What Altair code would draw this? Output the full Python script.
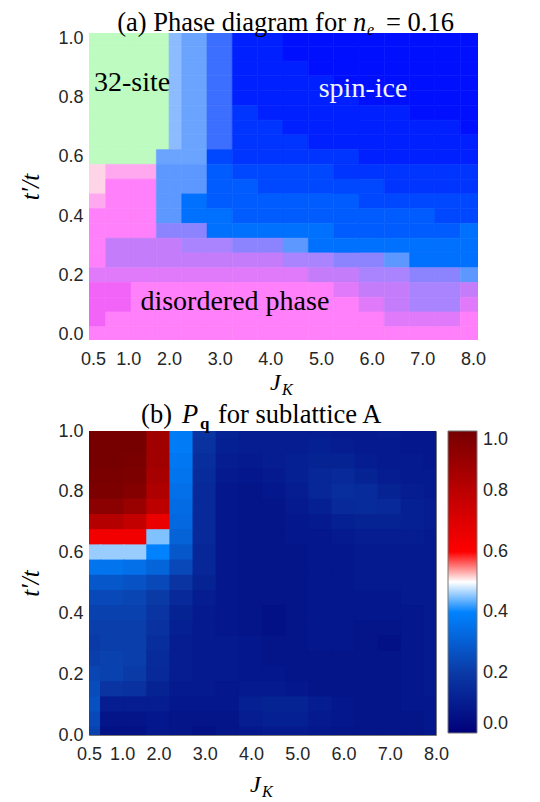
import altair as alt
import pandas as pd

# ---------------- data ----------------
# panel (a): cell edges along J_K (one extra column splits the 1.75-2.25 band)
TOP_X_EDGES = [0.25, 0.75, 1.25, 1.75, 2.0, 2.25, 2.75, 3.25, 3.75, 4.25,
               4.75, 5.25, 5.75, 6.25, 6.75, 7.25, 7.75, 8.25]
# panel (b): J_K grid centres
JK = [0.5, 1.0, 1.5, 2.0, 2.5, 3.0, 3.5, 4.0, 4.5, 5.0, 5.5, 6.0, 6.5, 7.0, 7.5, 8.0]
TP = [1.0, 0.95, 0.9, 0.85, 0.8, 0.75, 0.7, 0.65, 0.6, 0.55, 0.5,
      0.45, 0.4, 0.35, 0.3, 0.25, 0.2, 0.15, 0.1, 0.05, 0.0]

# phase-diagram colours
PHASE_PALETTE = {
    "G": "#bdfbc1", "L": "#8cbcff", "l": "#6aa4ff",
    "M": "#3c6eff", "D": "#0010ff", "B": "#0020ff", "b": "#0034ff",
    "E": "#0048ff", "A": "#005cff", "a": "#0070ff", "Q": "#5c98ff",
    "U": "#8c84ff", "V": "#c47cfa", "v": "#aa84ff", "P": "#ff80fa",
    "p": "#f264f8", "K": "#e07afa", "W": "#ffd4e6", "w": "#ffa8f0",
}
PHASE_ROWS = [
    "GGGGLlMBBDDDDDDDD",
    "GGGGLlMBBDDDDDDDD",
    "GGGGLlMBBBDDDDDDD",
    "GGGGLlMBBBBDDDDDD",
    "GGGGLlMBBBBBDDDDD",
    "GGGGLlMbBBBBBBDDD",
    "GGGGLlMbbBBBBBBBD",
    "GGGGLlMbbbBBBBBBB",
    "GGGlllEbbbbbBBBBB",
    "WwwQQQAEEEEbbbbbb",
    "WPPQQQAAEEEEEbbbb",
    "wPPQQaAAAAAAEEEEE",
    "PPPQQaaAAAAAAAAEE",
    "PPPUUUaaaaaAAAAAa",
    "PVVVVvvUUQaaaaaaa",
    "PVVVVVVVVvvUUQaaa",
    "KKKKKKKKKKVVvvUUQ",
    "ppPPPPPPPPPKVVvvV",
    "ppPPPPPPPPPPKVvvK",
    "pPPPPPPPPPPPPKKKP",
    "PPPPPPPPPPPPPPPPP",
]

# P_q for sublattice A (x100)
PQ_ROWS = [
    [100, 100, 100, 88, 38, 18, 12, 10, 10, 10, 10, 9, 9, 10, 8, 8],
    [100, 100, 100, 88, 38, 17, 11, 10, 10, 10, 11, 10, 9, 9, 8, 8],
    [100, 100, 99, 88, 37, 16, 10, 9, 10, 11, 12, 12, 10, 9, 9, 8],
    [99, 99, 98, 86, 36, 15, 9, 8, 9, 11, 13, 14, 12, 10, 9, 9],
    [98, 98, 96, 84, 35, 14, 8, 7, 8, 10, 13, 16, 15, 12, 10, 9],
    [94, 94, 90, 80, 34, 14, 8, 7, 7, 9, 11, 14, 15, 14, 11, 10],
    [82, 82, 78, 66, 33, 14, 8, 7, 7, 8, 9, 11, 12, 12, 11, 10],
    [64, 64, 64, 45, 31, 14, 8, 7, 7, 8, 8, 9, 10, 10, 10, 9],
    [46, 46, 46, 40, 28, 13, 8, 7, 7, 7, 8, 8, 9, 9, 9, 9],
    [36, 36, 35, 32, 24, 13, 8, 7, 7, 7, 8, 8, 9, 9, 9, 9],
    [28, 28, 27, 24, 18, 12, 8, 7, 7, 7, 8, 8, 9, 9, 9, 9],
    [24, 24, 23, 20, 14, 10, 8, 7, 7, 7, 8, 8, 8, 8, 9, 9],
    [22, 22, 22, 18, 12, 9, 8, 7, 6, 7, 8, 8, 8, 8, 8, 9],
    [21, 21, 21, 17, 11, 9, 8, 7, 6, 7, 8, 8, 7, 7, 8, 9],
    [20, 21, 21, 16, 10, 9, 9, 8, 7, 7, 8, 8, 7, 6, 8, 9],
    [21, 22, 21, 15, 10, 9, 9, 8, 7, 7, 7, 7, 7, 7, 8, 9],
    [23, 22, 20, 14, 10, 9, 9, 8, 8, 7, 7, 7, 7, 7, 8, 9],
    [25, 18, 17, 12, 9, 9, 8, 9, 9, 8, 7, 7, 7, 7, 8, 9],
    [26, 10, 10, 10, 8, 8, 8, 11, 12, 12, 10, 8, 7, 7, 8, 8],
    [24, 7, 7, 8, 7, 7, 7, 10, 11, 11, 9, 8, 7, 7, 7, 8],
    [22, 6, 6, 8, 7, 6, 7, 8, 9, 9, 8, 7, 7, 7, 7, 8],
]

X_TICKS = [0.5, 1.0, 2.0, 3.0, 4.0, 5.0, 6.0, 7.0, 8.0]
Y_TICKS = [0.0, 0.2, 0.4, 0.6, 0.8, 1.0]

PHASE_LABELS = ["32-site", "spin-ice", "disordered phase"]
PHASE_LABEL_JK = [1.27, 5.83, 3.3]
PHASE_LABEL_TP = [0.85, 0.83, 0.11]
PHASE_LABEL_COLOR = ["#000000", "#f4f4ff", "#000000"]

CMAP_STOPS = [0.0, 0.2, 0.4, 0.5, 0.6, 0.8, 1.0]
CMAP_COLORS = ["#00007a", "#0a3aa6", "#0082ff", "#ffffff", "#ff0000", "#bc0000", "#760000"]

# ---------------- tables ----------------
HX, HY = 0.25, 0.025
OVX, OVY = 0.012, 0.002   # tiny overlap so that neighbouring cells leave no seams
top_rows = []
for i, row in enumerate(PHASE_ROWS):
    assert len(row) == len(TOP_X_EDGES) - 1
    for j, ch in enumerate(row):
        top_rows.append({"x0": TOP_X_EDGES[j], "x1": TOP_X_EDGES[j + 1],
                         "y0": TP[i] - HY, "y1": TP[i] + HY,
                         "c": PHASE_PALETTE[ch]})
df_top = pd.DataFrame(top_rows)

bot_rows = []
for i, row in enumerate(PQ_ROWS):
    assert len(row) == len(JK)
    for j, v in enumerate(row):
        bot_rows.append({"x0": JK[j] - HX - OVX, "x1": JK[j] + HX + OVX,
                         "y0": TP[i] - HY - OVY, "y1": TP[i] + HY + OVY,
                         "v": v / 100.0})
df_bot = pd.DataFrame(bot_rows)

df_lab = pd.DataFrame({"t": PHASE_LABELS, "jk": PHASE_LABEL_JK,
                       "tp": PHASE_LABEL_TP, "col": PHASE_LABEL_COLOR})

SERIF = "Liberation Serif"
SANS = "Liberation Sans"
LBL = dict(labelFont=SANS, labelFontSize=18, labelColor="#262626")
TSIZE = 26.5


def x_axis():
    return alt.Axis(values=X_TICKS, format=".1f", labelOverlap=False,
                    labelFlush=False, ticks=False, domain=False, grid=False,
                    labelPadding=10, title=None,
                    labelOffset={"condition": {"test": "datum.value == 1", "value": 10}, "value": 0},
                    **LBL)


def y_axis():
    return alt.Axis(values=Y_TICKS, format=".1f", labelOverlap=False,
                    labelFlush=False, ticks=False, domain=False, grid=False,
                    labelPadding=6, title="t′/t", titleFont=SERIF,
                    titleFontStyle="italic", titleFontWeight="normal",
                    titleFontSize=25, titleColor="#000000", titlePadding=14,
                    **LBL)


ONE = alt.Data(values=[{"k": 0}])


def txt(s, x, y, size=TSIZE, style="normal", weight="normal", align="left"):
    return alt.Chart(ONE).mark_text(
        text=s, font=SERIF, fontSize=size, fontStyle=style, fontWeight=weight,
        align=align, baseline="alphabetic", color="#000000"
    ).encode(x=alt.value(x), y=alt.value(y))


# ---------------- panel (a) ----------------
W1, H1 = 389, 307
xs1 = alt.Scale(domain=[0.42, 8.1], nice=False, zero=False)
ys1 = alt.Scale(domain=[-0.02, 1.02], nice=False, zero=False)

rect1 = alt.Chart(df_top).mark_rect(clip=True, strokeWidth=0.6).encode(
    x=alt.X("x0:Q", scale=xs1, axis=x_axis()),
    x2="x1:Q",
    y=alt.Y("y0:Q", scale=ys1, axis=y_axis()),
    y2="y1:Q",
    fill=alt.Fill("c:N", scale=None),
    stroke=alt.Stroke("c:N", scale=None),
)
labels1 = alt.Chart(df_lab).mark_text(font=SERIF, fontSize=28).encode(
    x=alt.X("jk:Q", scale=xs1),
    y=alt.Y("tp:Q", scale=ys1),
    text="t:N",
    color=alt.Color("col:N", scale=None),
)
top = alt.layer(
    rect1, labels1,
    txt("(a) Phase diagram for", 257, -2, align="right"),
    txt("n", 264, -2, style="italic"),
    txt("e", 278, 2, size=16, style="italic"),
    txt("= 0.16", 297, -2),
    txt("J", 181, H1 + 50, size=24, style="italic"),
    txt("K", 193, H1 + 55, size=16, style="italic"),
).properties(width=W1, height=H1, view=alt.ViewBackground(stroke=None))

# ---------------- panel (b) ----------------
W2, H2 = 347, 304
xs2 = alt.Scale(domain=[0.5, 8.0], nice=False, zero=False)
ys2 = alt.Scale(domain=[0.0, 1.0], nice=False, zero=False)
cs = alt.Scale(domain=CMAP_STOPS, range=CMAP_COLORS, interpolate="rgb")
leg = alt.Legend(
    type="gradient", direction="vertical", orient="right",
    title=None, values=Y_TICKS, format=".1f", gradientLength=302,
    gradientThickness=29, gradientStrokeColor="#777777",
    gradientStrokeWidth=1, labelOverlap=False, labelBaseline="middle",
    labelOffset=6, offset=12, **LBL)

rect2 = alt.Chart(df_bot).mark_rect(clip=True).encode(
    x=alt.X("x0:Q", scale=xs2, axis=x_axis()),
    x2="x1:Q",
    y=alt.Y("y0:Q", scale=ys2, axis=y_axis()),
    y2="y1:Q",
    color=alt.Color("v:Q", scale=cs, legend=leg),
)

bottom = alt.layer(
    rect2,
    txt("(b)", 83, -8, align="right"),
    txt("P", 93, -8, style="italic"),
    txt("q", 111, -2, size=17, weight="bold"),
    txt("for sublattice A", 129, -8),
    txt("J", 161, H2 + 57, size=24, style="italic"),
    txt("K", 173, H2 + 62, size=16, style="italic"),
).properties(width=W2, height=H2,
             view=alt.ViewBackground(stroke="#777777", strokeWidth=1))

chart = alt.vconcat(top, bottom, spacing=3).properties(
    padding={"left": 10, "top": 2, "right": 0, "bottom": 0}
).resolve_scale(color="independent").configure(
    font=SERIF, background="white"
)

chart.save("out.html", embed_options={"renderer": "svg", "actions": False})
